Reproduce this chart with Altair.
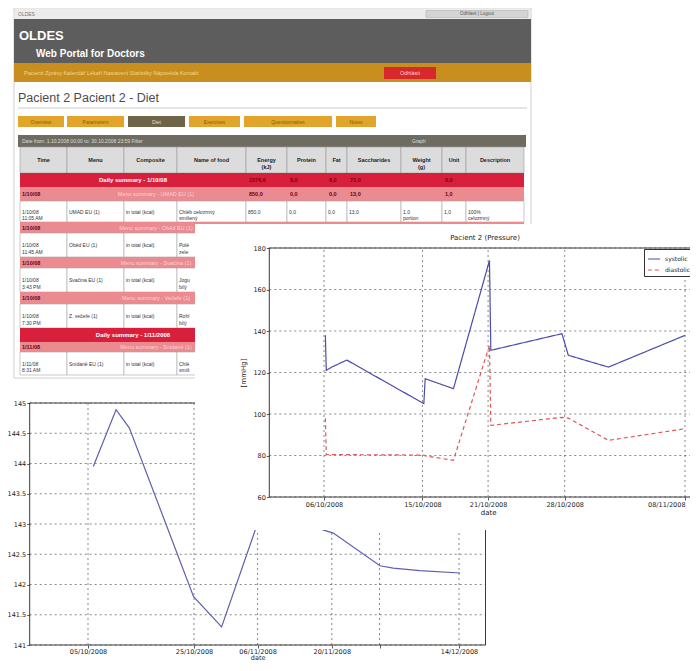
import altair as alt
import pandas as pd

# ===================== values =====================
# right chart: blood pressure
bp_times = ["2008-10-06T03:00:00", "2008-10-06T05:00:00", "2008-10-06T17:00:00",
            "2008-10-08T02:00:00", "2008-10-15T03:00:00", "2008-10-15T06:00:00",
            "2008-10-17T20:00:00", "2008-10-21T03:00:00", "2008-10-21T06:00:00",
            "2008-10-27T18:00:00", "2008-10-28T08:00:00", "2008-11-01T00:00:00",
            "2008-11-08T00:00:00"]
systolic = [138.0, 121.0, 122.6, 126.0, 105.0, 117.0, 112.2, 174.0, 130.7, 138.7, 128.3, 122.6, 137.9]
diastolic = [98.0, 80.5, 80.4, 80.4, 80.2, 79.8, 77.7, 133.1, 94.5, 98.4, 98.0, 87.3, 92.9]
bp_series = ["systolic", "diastolic"]
bp_x_ticks = ["2008-10-06", "2008-10-15", "2008-10-21", "2008-10-28", "2008-11-08"]
bp_x_domain = ["2008-10-01", "2008-11-10"]
bp_y_ticks = [60, 80, 100, 120, 140, 160, 180]
bp_y_domain = [60, 180]
bp_title = "Pacient 2 (Pressure)"

# left chart: weight
wt_times = ["2008-10-06T00:00:00", "2008-10-10T07:00:00", "2008-10-12T19:00:00",
            "2008-10-24T22:00:00", "2008-10-30T05:00:00", "2008-11-05T19:00:00",
            "2008-11-15T22:00:00", "2008-11-20T07:00:00", "2008-11-29T02:00:00",
            "2008-12-01T14:00:00", "2008-12-06T14:00:00", "2008-12-14T05:00:00"]
weight = [143.95, 144.89, 144.59, 141.80, 141.30, 142.96, 142.97, 142.85, 142.31, 142.27, 142.23, 142.19]
wt_x_ticks = ["2008-10-05", "2008-10-25", "2008-11-06", "2008-11-20", "2008-11-29", "2008-12-14"]
wt_x_domain = ["2008-09-24", "2008-12-19"]
wt_y_ticks = [141.0, 141.5, 142.0, 142.5, 143.0, 143.5, 144.0, 144.5, 145.0]
wt_y_domain = [141, 145]

# portal screenshot texts
tab_names = ["Overview", "Parameters", "Diet", "Exercises", "Questionnaires", "Notes"]
col_names = ["Time", "Menu", "Composite", "Name of food", "Energy\n(kJ)", "Protein", "Fat",
             "Saccharides", "Weight\n(g)", "Unit", "Description"]
table_rows = [
    ("daily", "Daily summary - 1/10/08", ["1576,6", "8,0", "8,0", "73,0", "", "0,0", ""]),
    ("menu", "1/10/08", "Menu summary - UMAD EU (1)", ["850,0", "0,0", "0,0", "13,0", "", "1,0", ""]),
    ("item", ["1/10/08\n11:05 AM", "UMAD EU (1)", "in total (kcal)", "Chléb       celozrnný\nsmíšený",
              "850,0", "0,0", "0,0", "13,0", "1,0\nportion", "1,0", "100%\ncelozrnný"]),
    ("menu", "1/10/08", "Menu summary - Oběd EU (1)", []),
    ("item", ["1/10/08\n11:45 AM", "Oběd EU (1)", "in total (kcal)", "Polé\nzele"]),
    ("menu", "1/10/08", "Menu summary - Svačina (1)", []),
    ("item", ["1/10/08\n3:43 PM", "Svačina EU (1)", "in total (kcal)", "Jogu\nbílý"]),
    ("menu", "1/10/08", "Menu summary - Večeře (1)", []),
    ("item", ["1/10/08\n7:30 PM", "Z. večeře (1)", "in total (kcal)", "Rohl\nbílý"]),
    ("daily", "Daily summary - 1/11/2008", []),
    ("menu", "1/11/08", "Menu summary - Snídaně (1)", []),
    ("item", ["1/11/08\n8:31 AM", "Snídaně EU (1)", "in total (kcal)", "Chlé\nsmíš"]),
]

# ===================== layout (reference-picture pixels) =====================
M = 8
W, H = 698 - 2 * M, 671 - 2 * M
tab_edges = [(18, 64), (67, 124), (128, 185), (189, 240), (244, 332), (336, 376)]
col_edges = [20, 67, 124, 177, 246, 287, 326, 347, 401, 442, 466, 524]
row_edges = [173, 187, 201, 222, 233, 257, 268, 292, 304, 328, 342, 352, 375]
PANEL = (195, 700, 224, 530)

BP_XR = [269.3 - M, 706.9 - M]
BP_YR = [497 - M, 248 - M]
WT_XR = [29.7 - M, 485.5 - M]
WT_YR = [645 - M, 403 - M]


def dt(s):
    y, m, d = map(int, s.split("-"))
    return alt.DateTime(year=y, month=m, date=d)


def iso(s):
    return s + "T00:00:00"


def cx():
    return alt.Scale(domain=[0, 698], range=[-M, 698 - M])


def cy():
    return alt.Scale(domain=[0, 671], range=[-M, 671 - M])


def canvas_layer(box_rows, text_rows, font="Liberation Sans"):
    layers = [alt.Chart(pd.DataFrame(box_rows)).mark_rect().encode(
        x=alt.X("x0:Q", scale=cx(), axis=None), x2="x1",
        y=alt.Y("y0:Q", scale=cy(), axis=None), y2="y1",
        fill=alt.Fill("fill:N", scale=None),
        stroke=alt.Stroke("stroke:N", scale=None),
        strokeWidth=alt.StrokeWidth("sw:Q", scale=None),
    )]
    tdf = pd.DataFrame(text_rows)
    for (w, a), g in tdf.groupby(["weight", "align"]):
        layers.append(alt.Chart(g.reset_index(drop=True)).mark_text(
            align=a, baseline="middle", fontWeight=w, font=font, lineBreak="\n", lineHeight=6.5
        ).encode(
            x=alt.X("x:Q", scale=cx(), axis=None),
            y=alt.Y("y:Q", scale=cy(), axis=None),
            text=alt.Text("s:N"),
            fill=alt.Fill("color:N", scale=None),
            size=alt.Size("fs:Q", scale=None),
        ))
    return alt.layer(*layers)


# ---------------- portal screenshot ----------------
boxes, texts = [], []


def box(x0, x1, y0, y1, fill, stroke="transparent", sw=0.0, to=None):
    (boxes if to is None else to).append(dict(x0=x0, x1=x1, y0=y0, y1=y1, fill=fill, stroke=stroke, sw=sw))


def txt(x, y, s, fs, color, weight="normal", align="left", to=None):
    (texts if to is None else to).append(dict(x=x, y=y, s=s, fs=fs, color=color, weight=weight, align=align))


box(14, 531, 8, 378, "#ffffff", "#cfcfcf", 1)
box(15, 530, 9, 19, "#ececec")
txt(18, 14, "OLDES", 5, "#777777")
box(426, 528, 10.5, 17.5, "#d4d4d4", "#aaaaaa", 0.5)
txt(477, 14, "Odhlásit  |  Logout", 4.5, "#555555", align="center")
box(14, 531, 19, 63, "#5d5d5d")
txt(19, 36, "OLDES", 13, "#ffffff", "bold")
txt(36, 53.5, "Web Portal for Doctors", 10, "#ffffff", "bold")
box(14, 531, 63, 82, "#c98f1e")
txt(24, 73, "Pacienti    Zprávy    Kalendář    Lékaři    Nastavení    Statistiky    Nápověda    Kontakt",
    5.5, "#f3d58f")
box(384, 436, 67, 79, "#d7282b")
txt(410, 73, "Odhlásit", 5.5, "#ffd0d0", align="center")
txt(18, 98, "Pacient 2 Pacient 2 - Diet", 12.5, "#4c4c4c")
box(18, 527, 107.5, 108.5, "#cccccc")
for i, ((a, b), name) in enumerate(zip(tab_edges, tab_names)):
    sel = i == 2
    box(a, b, 116, 127, "#6e6548" if sel else "#e2a52c")
    txt((a + b) / 2, 121.5, name, 5, "#e8dfc4" if sel else "#8a5a08", align="center")
box(18, 526, 135, 147, "#6e6c61")
txt(22, 141, "Date from: 1.10.2008 00:00    to: 30.10.2008 23:59    Filter", 5, "#dddddd")
txt(412, 141, "Graph", 5, "#dddddd")
for c, name in enumerate(col_names):
    box(col_edges[c], col_edges[c + 1], 147, 173, "#dcdcdc", "#9a9a9a", 0.6)
    txt((col_edges[c] + col_edges[c + 1]) / 2, 160, name, 5.5, "#222222", "bold", "center")
for r, row in enumerate(table_rows):
    y0, y1 = row_edges[r], row_edges[r + 1]
    yc = (y0 + y1) / 2
    if row[0] == "daily":
        box(20, 524, y0, y1, "#d81f3b")
        txt(133, yc, row[1], 6, "#ffffff", "bold", "center")
        for k, v in enumerate(row[2]):
            if v:
                txt(col_edges[4 + k] + 3, yc, v, 5.5, "#7d0015", "bold")
    elif row[0] == "menu":
        box(20, 524, y0, y1, "#eb8a8f")
        txt(22, yc, row[1], 5.5, "#6b0016", "bold")
        txt(156, yc, row[2], 5.5, "#fbd3d5", align="center")
        for k, v in enumerate(row[3]):
            if v:
                txt(col_edges[4 + k] + 3, yc, v, 5.5, "#6b0016", "bold")
    else:
        for c in range(len(col_names)):
            box(col_edges[c], col_edges[c + 1], y0, y1, "#ffffff", "#a5a5a5", 0.6)
        for c, v in enumerate(row[1]):
            txt(col_edges[c] + 2, yc, v, 5, "#333333")

portal = canvas_layer(boxes, texts)

# panel behind the pressure chart
pboxes, ptexts = [], []
box(PANEL[0], PANEL[1], PANEL[2], PANEL[3], "#ffffff", to=pboxes)
txt(485, 238, bp_title, 7, "#222222", align="center", to=ptexts)
panel = canvas_layer(pboxes, ptexts, font="DejaVu Sans")

# ---------------- axis style ----------------
axis_style = dict(grid=False, domain=False, tickSize=3, tickColor="#333333", tickWidth=0.8,
                  labelFont="DejaVu Sans", labelFontSize=6.5, labelColor="#222222",
                  titleFont="DejaVu Sans", titleFontSize=7, titleFontWeight="normal",
                  titleColor="#222222", labelFlush=False, labelOverlap=False, zindex=1)
grid_style = dict(strokeDash=[2, 3], color="#555555", strokeWidth=0.7)


def line_panel(series_df, x_dom, x_ticks, x_rng, y_dom, y_ticks, y_rng, x_axis, y_axis, line):
    xs = alt.Scale(domain=[dt(x_dom[0]), dt(x_dom[1])], range=x_rng)
    ys = alt.Scale(domain=y_dom, range=y_rng)
    frame = pd.DataFrame({"t0": [iso(x_dom[0])], "t1": [iso(x_dom[1])], "v0": [y_dom[0]], "v1": [y_dom[1]]})
    gv = pd.DataFrame({"t": [iso(t) for t in x_ticks], "v0": y_dom[0], "v1": y_dom[1]})
    gh = pd.DataFrame({"v": y_ticks, "t0": iso(x_dom[0]), "t1": iso(x_dom[1])})
    vgrid = alt.Chart(gv).mark_rule(**grid_style).encode(
        x=alt.X("t:T", scale=xs, axis=x_axis), y=alt.Y("v0:Q", scale=ys, axis=y_axis), y2="v1")
    hgrid = alt.Chart(gh).mark_rule(**grid_style).encode(
        x=alt.X("t0:T", scale=xs, axis=x_axis), x2="t1", y=alt.Y("v:Q", scale=ys, axis=y_axis))
    box_ = alt.Chart(frame).mark_rect(fillOpacity=0, stroke="#3a3a3a", strokeWidth=1).encode(
        x=alt.X("t0:T", scale=xs, axis=x_axis), x2="t1", y=alt.Y("v0:Q", scale=ys, axis=y_axis), y2="v1")
    lines = line(alt.Chart(series_df), alt.X("time:T", scale=xs, axis=x_axis),
                 alt.Y("value:Q", scale=ys, axis=y_axis))
    return alt.layer(vgrid, hgrid, lines, box_)


# ---------------- left chart (weight) ----------------
wt_df = pd.DataFrame({"time": wt_times, "value": weight})
wt_x_axis = alt.Axis(values=[dt(t) for t in wt_x_ticks], orient="bottom", offset=WT_YR[0] - H,
                     title="date", titlePadding=0, labelPadding=0,
                     labelExpr="timeFormat(datum.value, '%d/%m/%Y') == '29/11/2008' ? '' : timeFormat(datum.value, '%d/%m/%Y')",
                     **{**axis_style, "titleFontSize": 6.5})
wt_y_axis = alt.Axis(values=wt_y_ticks, orient="left", offset=-WT_XR[0], title=None, labelPadding=1,
                     labelExpr="toString(datum.value)", **axis_style)
left = line_panel(wt_df, wt_x_domain, wt_x_ticks, WT_XR, wt_y_domain, wt_y_ticks, WT_YR,
                  wt_x_axis, wt_y_axis,
                  lambda ch, x, y: ch.mark_line(color="#5f5fae", strokeWidth=1.2).encode(x=x, y=y))

# ---------------- right chart (pressure) ----------------
bp_df = pd.DataFrame({"time": bp_times * 2, "value": systolic + diastolic,
                      "series": [bp_series[0]] * len(systolic) + [bp_series[1]] * len(diastolic)})
bp_x_axis = alt.Axis(values=[dt(t) for t in bp_x_ticks], format="%d/%m/%Y", orient="bottom",
                     offset=BP_YR[0] - H, title="date", titlePadding=1, labelPadding=1,
                     labelAlign={"condition": {"test": "datum.value > time(datetime(2008, 10, 1))",
                                               "value": "right"}, "value": "center"},
                     **axis_style)
bp_y_axis = alt.Axis(values=bp_y_ticks, orient="left", offset=-BP_XR[0], title="[mmHg]",
                     titlePadding=6, labelPadding=1, **axis_style)
legend_style = dict(title=None, orient="none", legendX=644 - M, legendY=249 - M, fillColor="white",
                    strokeColor="#333333", padding=3, symbolType="stroke", symbolSize=150,
                    symbolStrokeWidth=1.2, labelFontSize=6, labelFont="DejaVu Sans",
                    labelColor="#222222", rowPadding=1)


def bp_lines(ch, x, y):
    return ch.mark_line(strokeWidth=1.2).encode(
        x=x, y=y,
        color=alt.Color("series:N", scale=alt.Scale(domain=bp_series, range=["#4b4bab", "#e0565a"]),
                        legend=alt.Legend(**legend_style)),
        strokeDash=alt.StrokeDash("series:N", scale=alt.Scale(domain=bp_series, range=[[1, 0], [4, 3]]),
                                  legend=alt.Legend(**legend_style)),
    )


right = line_panel(bp_df, bp_x_domain, bp_x_ticks, BP_XR, bp_y_domain, bp_y_ticks, BP_YR,
                   bp_x_axis, bp_y_axis, bp_lines)

chart = alt.layer(portal, left, panel, right).resolve_scale(
    x="independent", y="independent"
).properties(
    width=W, height=H, autosize=alt.AutoSizeParams(type="none"), padding=0, background="white"
).configure_view(stroke=None)

chart.save("out.html", embed_options={"renderer": "svg", "actions": False})
